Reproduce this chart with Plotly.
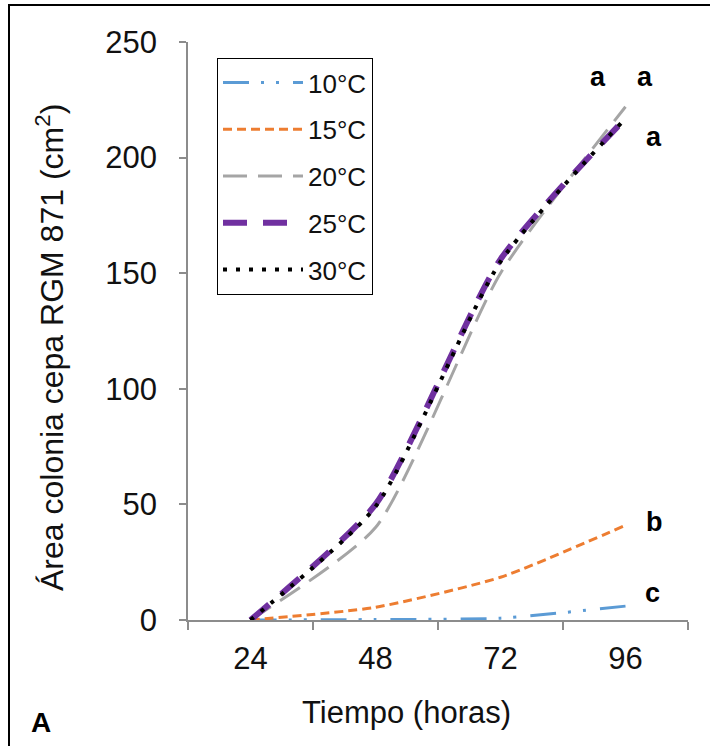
import plotly.graph_objects as go

hours = [24, 48, 72, 96]
t10 = [0, 0.2, 0.8, 6]
t15 = [0, 5.5, 18.5, 41]
t20 = [0, 40, 150, 222]
t25 = [0, 50, 156, 217]
t30 = [0, 49, 155, 217]
names = ["10°C", "15°C", "20°C", "25°C", "30°C"]
series = [t10, t15, t20, t25, t30]
colors = ["#5B9BD5", "#ED7D31", "#A5A5A5", "#7030A0", "#000000"]
widths = [3, 3, 3, 6, 4]
dashes = ["26px,12px,3px,12px,3px,14px", "9px,5px", "24px,11px", "24px,16px", "4px,9px"]

sig_labels = ["a", "a", "a", "b", "c"]
sig_x = [90.7, 99.7, 101.5, 101.5, 101.2]
sig_y = [235, 235, 209, 42.4, 11.7]

y_ticks = [0, 50, 100, 150, 200, 250]
x_bounds = [12, 36, 60, 84, 108]

W, H = 710, 746
L, R, T, B = 188, 22, 42, 126
pw, ph = W - L - R, H - T - B

def px_x(p):
    return (p - L) / pw

def px_y(p):
    return (H - B - p) / ph

fig = go.Figure()
for i, (n, s) in enumerate(zip(names, series)):
    fig.add_trace(go.Scatter(
        x=hours, y=s, name=n, mode="lines", legendgroup=n,
        line=dict(color=colors[i], width=widths[i], dash=dashes[i],
                  shape="spline", smoothing=0.6),
    ))

font = "Liberation Sans, Arial, sans-serif"
annotations = []
for lab, ax, ay in zip(sig_labels, sig_x, sig_y):
    annotations.append(dict(x=ax, y=ay, xref="x", yref="y", text="<b>%s</b>" % lab,
                            showarrow=False, font=dict(size=27, color="#000", family=font)))
annotations.append(dict(x=px_x(406), y=px_y(712), xref="paper", yref="paper",
                        xanchor="center", yanchor="middle",
                        text="Tiempo (horas)", showarrow=False,
                        font=dict(size=31, color="#111", family=font)))
annotations.append(dict(x=px_x(50), y=px_y(348), xref="paper", yref="paper",
                        xanchor="center", yanchor="middle", textangle=-90,
                        text="Área colonia cepa RGM 871 (cm<sup>2</sup>)", showarrow=False,
                        font=dict(size=32, color="#111", family=font)))
annotations.append(dict(x=px_x(41), y=px_y(722), xref="paper", yref="paper",
                        xanchor="center", yanchor="middle",
                        text="<b>A</b>", showarrow=False,
                        font=dict(size=28, color="#000", family=font)))

fig.update_layout(
    width=W, height=H,
    margin=dict(l=L, r=R, t=T, b=B),
    paper_bgcolor="white", plot_bgcolor="white",
    font=dict(family=font, size=30, color="#111"),
    showlegend=True,
    legend=dict(x=px_x(217), y=px_y(58), xanchor="left", yanchor="top",
                bordercolor="#000", borderwidth=1, bgcolor="white",
                font=dict(size=26, color="#111", family=font),
                tracegroupgap=10, traceorder="grouped", itemwidth=80),
    xaxis=dict(range=[12, 108], tickvals=hours, ticktext=[str(h) for h in hours],
               ticks="", showline=True, linecolor="#8C8C8C", linewidth=1.5,
               showgrid=False, zeroline=False, ticklabelstandoff=10,
               tickfont=dict(size=31, color="#111"),
               minor=dict(tickvals=x_bounds, ticks="outside", ticklen=8,
                          tickcolor="#8C8C8C", tickwidth=1.5, showgrid=False)),
    yaxis=dict(range=[0, 250], tickvals=y_ticks, ticks="outside", ticklen=7,
               tickcolor="#8C8C8C", tickwidth=1.5,
               showline=True, linecolor="#8C8C8C", linewidth=1.5,
               showgrid=False, zeroline=False, ticklabelstandoff=16,
               tickfont=dict(size=31, color="#111")),
    annotations=annotations,
    shapes=[dict(type="rect", xref="paper", yref="paper",
                 x0=px_x(9), x1=px_x(714), y0=px_y(750), y1=px_y(5),
                 line=dict(color="#000", width=2), fillcolor="rgba(0,0,0,0)",
                 layer="above")],
)

fig.write_html("out.html")
